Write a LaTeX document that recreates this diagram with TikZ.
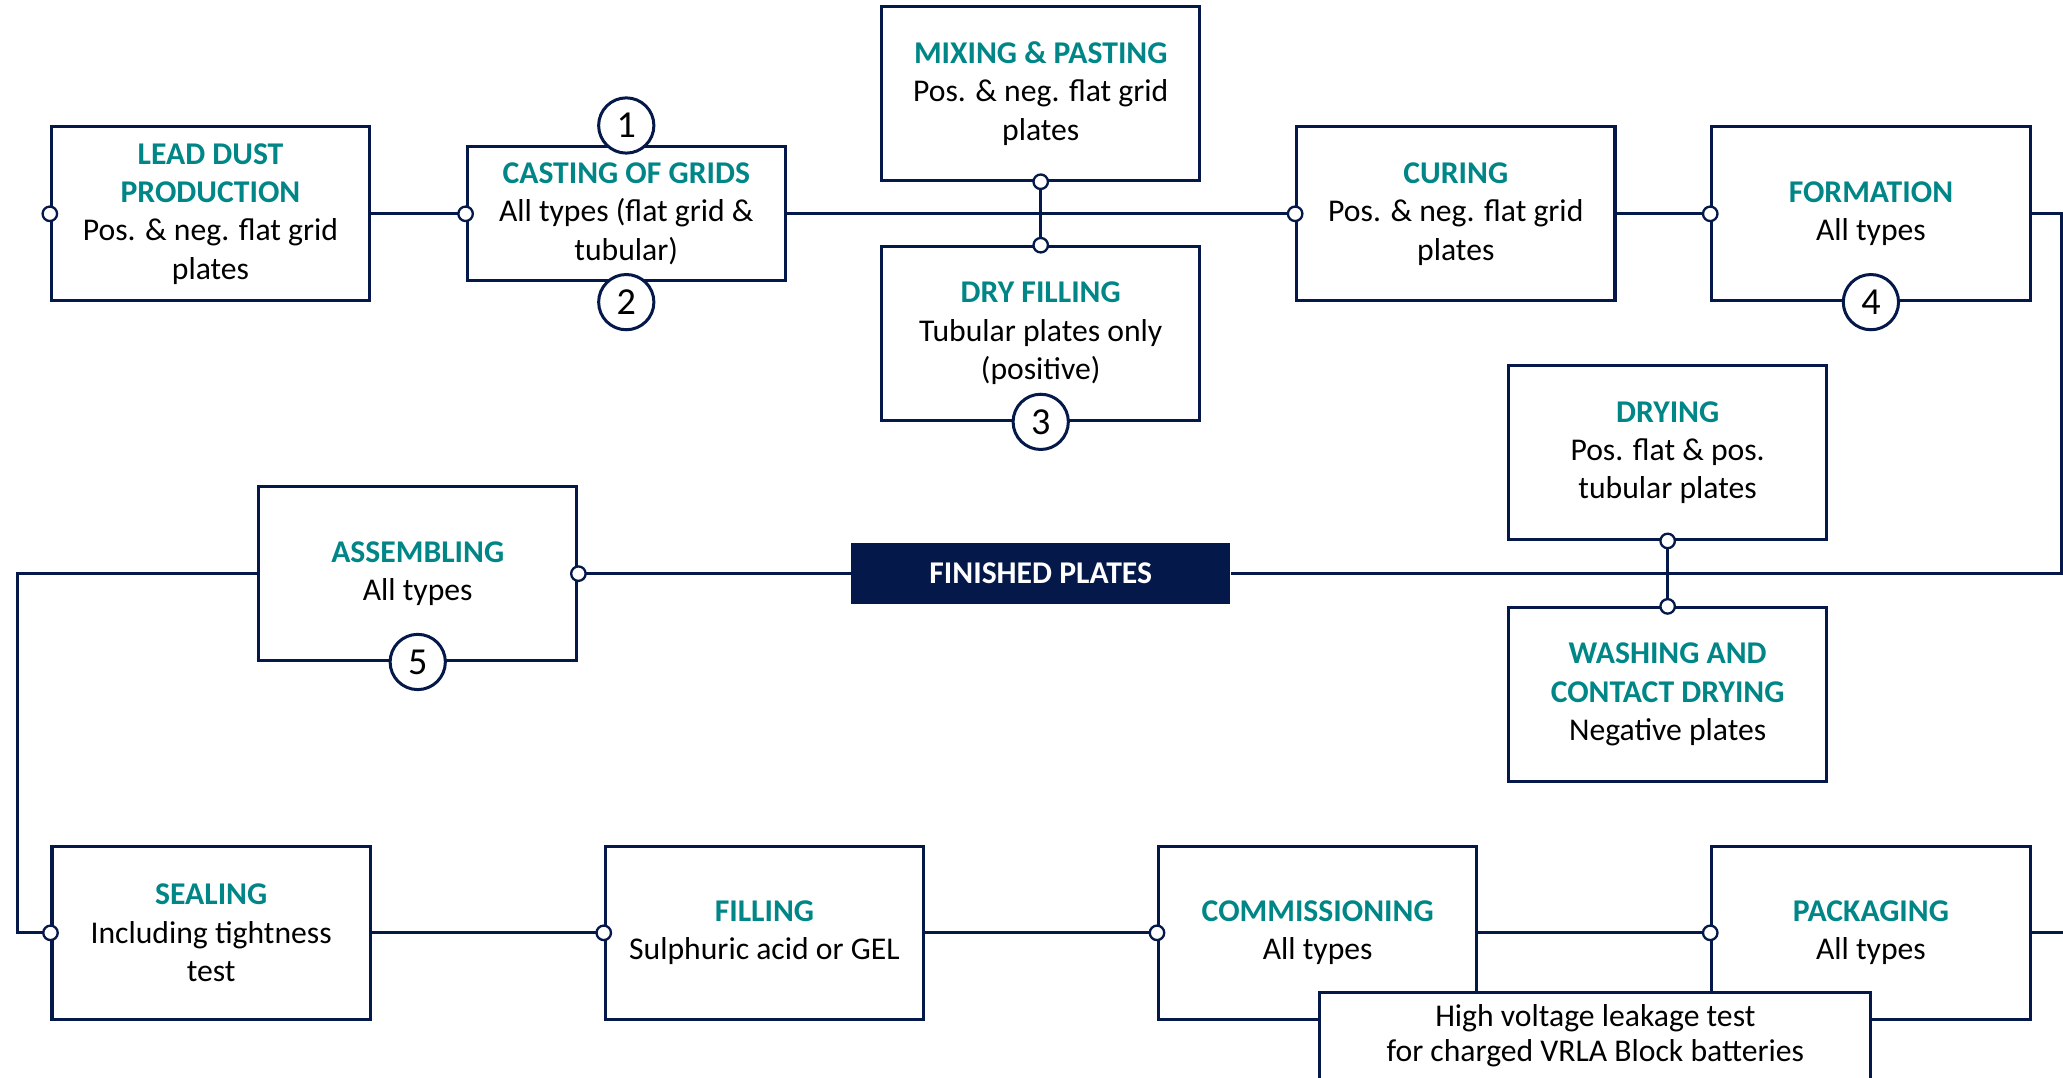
\documentclass[tikz,border=0pt]{standalone}
\usepackage{fontspec}
\setmainfont{Carlito}
\definecolor{navy}{RGB}{4,24,74}
\definecolor{teal}{RGB}{0,134,135}
\newcommand{\ttl}[1]{\textcolor{teal}{\bfseries #1}}
\tikzset{
    box/.style={draw=navy, line width=1.3pt, fill=white, align=center, minimum width=4.84cm, minimum height=2.64cm, inner sep=2pt, font=\fontsize{13.7}{16.6}\selectfont},
    port/.style={circle, draw=navy, line width=1pt, fill=white, inner sep=0pt, minimum size=0.22cm},
    num/.style={circle, draw=navy, line width=1.3pt, fill=white, inner sep=0pt, minimum size=0.84cm, font=\fontsize{16.5}{19}\selectfont},
    link/.style={draw=navy, line width=1.3pt}
}
\begin{document}
\begin{tikzpicture}[x=0.02cm, y=-0.02cm]
        \clip (0,0) rectangle (1568,819);
        \fill[white] (0,0) rectangle (1568,819);

        % Process boxes
        \node (lead) [box] at (160, 162.5) {\ttl{LEAD DUST}\\\ttl{PRODUCTION}\\Pos. \& neg. flat grid\\plates};
        \node (cast) [box, minimum height=2.04cm] at (476, 162.5) {\ttl{CASTING OF GRIDS}\\All types (flat grid \&\\tubular)};
        \node (mix) [box] at (791, 71) {\ttl{MIXING \& PASTING}\\Pos. \& neg. flat grid\\plates};
        \node (dry) [box] at (791, 253.5) {\ttl{DRY FILLING}\\Tubular plates only\\(positive)};
        \node (cur) [box] at (1106.5, 162.5) {\ttl{CURING}\\Pos. \& neg. flat grid\\plates};
        \node (form) [box] at (1422, 162.5) {\ttl{FORMATION}\\All types};
        \node (drying) [box] at (1267.5, 344) {\ttl{DRYING}\\Pos. flat \& pos.\\tubular plates};
        \node (wash) [box] at (1267.5, 528) {\ttl{WASHING AND}\\\ttl{CONTACT DRYING}\\Negative plates};
        \node (fin) [fill=navy, text=white, minimum width=5.76cm, minimum height=0.92cm, font=\fontsize{13.7}{16.6}\selectfont\bfseries] at (791, 436) {FINISHED PLATES};
        \node (assem) [box] at (317.5, 436) {\ttl{ASSEMBLING}\\All types};
        \node (seal) [box] at (160.5, 709) {\ttl{SEALING}\\Including tightness\\test};
        \node (fill) [box] at (581, 709) {\ttl{FILLING}\\Sulphuric acid or GEL};
        \node (comm) [box] at (1001.5, 709) {\ttl{COMMISSIONING}\\All types};
        \node (pack) [box] at (1422, 709) {\ttl{PACKAGING}\\All types};

        % Free ends at the picture edges
        \coordinate (edgeR) at (1567, 436);
        \coordinate (edgeL) at (13, 709);
        \coordinate (edgeR2) at (1570, 709);

        % Edges
        \draw[link] (lead.east) -- (cast.west);
        \draw[link] (cast.east) -- (cur.west);
        \draw[link] (mix.south) -- (dry.north);
        \draw[link] (cur.east) -- (form.west);
        \draw[link] (form.east) -| (edgeR) -- (fin.east);
        \draw[link] (drying.south) -- (wash.north);
        \draw[link] (fin.west) -- (assem.east);
        \draw[link] (assem.west) -| (edgeL) -- (seal.west);
        \draw[link] (seal.east) -- (fill.west);
        \draw[link] (fill.east) -- (comm.west);
        \draw[link] (comm.east) -- (pack.west);
        \draw[link] (pack.east) -- (edgeR2);

        % Note box over commissioning and packaging
        \node (hv) [box, minimum width=8.38cm, minimum height=1.34cm, font=\fontsize{13.7}{15.2}\selectfont] at (1212.5, 787.5) {High voltage leakage test\\for charged VRLA Block batteries};

        % Ports
        \node (p1) [port] at (lead.west) {};
        \node (p2) [port] at (cast.west) {};
        \node (p3) [port] at (mix.south) {};
        \node (p4) [port] at (dry.north) {};
        \node (p5) [port] at (cur.west) {};
        \node (p6) [port] at (form.west) {};
        \node (p7) [port] at (drying.south) {};
        \node (p8) [port] at (wash.north) {};
        \node (p9) [port] at (assem.east) {};
        \node (p10) [port] at (seal.west) {};
        \node (p11) [port] at (fill.west) {};
        \node (p12) [port] at (comm.west) {};
        \node (p13) [port] at (pack.west) {};

        % Step numbers
        \node (n1) [num] at ([yshift=0.3cm]cast.north) {1};
        \node (n2) [num] at ([yshift=-0.3cm]cast.south) {2};
        \node (n3) [num] at (dry.south) {3};
        \node (n4) [num] at (form.south) {4};
        \node (n5) [num] at (assem.south) {5};

    \end{tikzpicture}
\end{document}
